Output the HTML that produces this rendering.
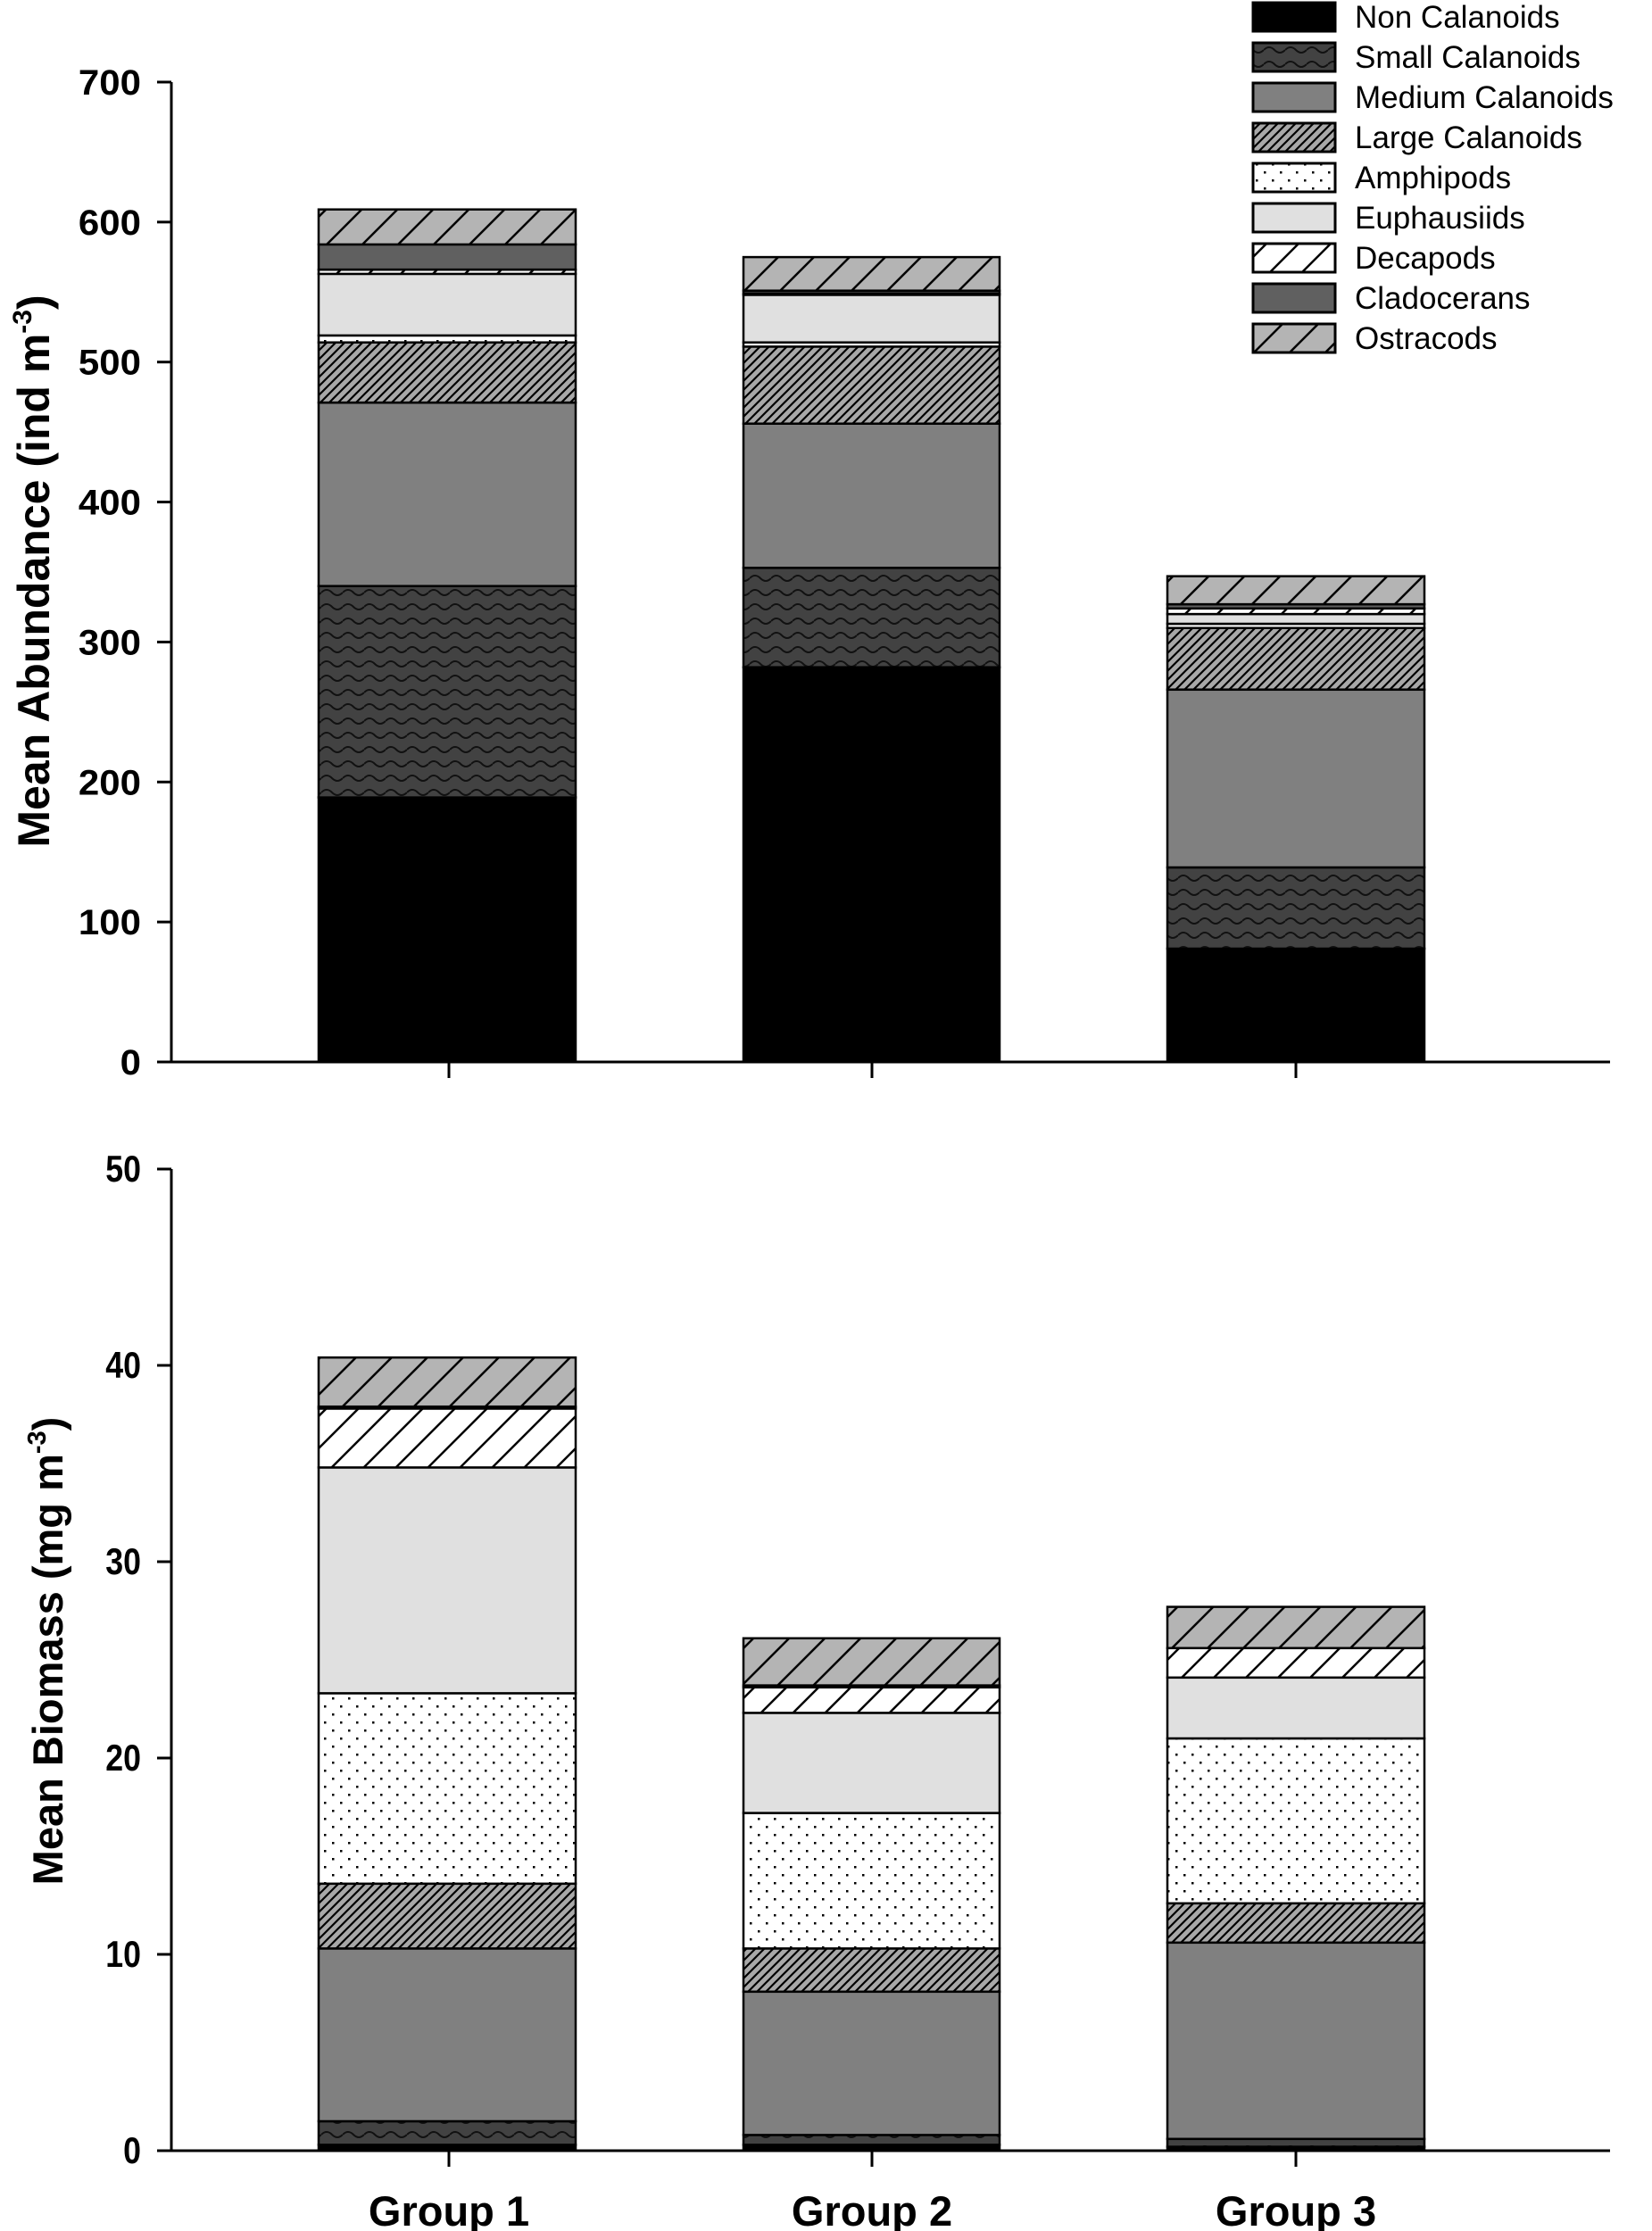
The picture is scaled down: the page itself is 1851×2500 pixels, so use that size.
<!DOCTYPE html>
<html><head><meta charset="utf-8"><style>
html,body{margin:0;padding:0;background:#fff;}
svg{display:block;}
text{font-family:"Liberation Sans",Arial,sans-serif;}
</style></head><body>
<svg id="s" width="1851" height="2500" viewBox="0 0 1851 2500" xmlns="http://www.w3.org/2000/svg">
<defs>
<pattern id="pSmall" width="24" height="16" patternUnits="userSpaceOnUse">
<rect width="24" height="16" fill="#424242"/>
<path d="M0 8 Q6 2 12 8 T24 8" fill="none" stroke="#111" stroke-width="2"/>
</pattern>
<pattern id="pLarge" width="10" height="10" patternUnits="userSpaceOnUse">
<rect width="10" height="10" fill="#a8a8a8"/>
<path d="M-2 12 L12 -2 M-7 7 L7 -7 M3 17 L17 3" stroke="#000" stroke-width="2.2"/>
</pattern>
<pattern id="pAmph" width="18" height="18" patternUnits="userSpaceOnUse">
<rect width="18" height="18" fill="#fff"/>
<rect x="3" y="3" width="2.5" height="2.5" fill="#000"/>
<rect x="12" y="12" width="2.5" height="2.5" fill="#000"/>
</pattern>
<pattern id="pDec" width="36" height="36" patternUnits="userSpaceOnUse">
<rect width="36" height="36" fill="#fff"/>
<path d="M-4 40 L40 -4 M-40 40 L4 -4 M32 40 L76 -4" stroke="#000" stroke-width="2.5"/>
</pattern>
<pattern id="pOst" width="40" height="40" patternUnits="userSpaceOnUse">
<rect width="40" height="40" fill="#b4b4b4"/>
<path d="M-4 44 L44 -4 M-44 44 L4 -4 M36 44 L84 -4" stroke="#000" stroke-width="2.5"/>
</pattern>
</defs>
<g id="g"></g>
</svg>
<script>
var fills=["#000","url(#pSmall)","#808080","url(#pLarge)","url(#pAmph)","#e0e0e0","url(#pDec)","#606060","url(#pOst)"];
var names=["Non Calanoids","Small Calanoids","Medium Calanoids","Large Calanoids","Amphipods","Euphausiids","Decapods","Cladocerans","Ostracods"];
var bars=[[357,645],[833,1120],[1308,1596]];
var ticksX=[503,977,1452];
var A=[[189,340,471,514,519,563,566,584,609],[282,353,456,511,514,548,549,551,575],[81,139,266,310,313,320,324,327,347]];
var B=[[0.3,1.5,10.3,13.6,23.3,34.8,37.8,37.9,40.4],[0.3,0.8,8.1,10.3,17.2,22.3,23.6,23.7,26.1],[0.2,0.6,10.6,12.6,21.0,24.1,25.6,25.6,27.7]];
var h='';
function panel(data,y0,sc,max,step,label,fs,sx){
  for(var g=0;g<3;g++){var prev=0;for(var i=0;i<9;i++){var v=data[g][i];if(v<=prev){continue;}
    var yt=y0-v*sc,yb=y0-prev*sc;
    h+='<rect x="'+bars[g][0]+'" y="'+yt.toFixed(1)+'" width="'+(bars[g][1]-bars[g][0])+'" height="'+(yb-yt).toFixed(1)+'" fill="'+fills[i]+'" stroke="#000" stroke-width="2.5"/>';
    prev=v;}}
  var ytop=y0-max*sc;
  h+='<line x1="192" y1="'+ytop+'" x2="192" y2="'+y0+'" stroke="#000" stroke-width="3"/>';
  h+='<line x1="192" y1="'+y0+'" x2="1804" y2="'+y0+'" stroke="#000" stroke-width="3"/>';
  for(var v=0;v<=max;v+=step){var y=y0-v*sc;
    h+='<line x1="176" y1="'+y+'" x2="192" y2="'+y+'" stroke="#000" stroke-width="3"/>';
    h+='<text transform="translate(158,'+(y+14)+') scale('+sx+',1)" font-size="'+fs+'" font-weight="bold" text-anchor="end">'+v+'</text>';}
  for(var t=0;t<3;t++){h+='<line x1="'+ticksX[t]+'" y1="'+y0+'" x2="'+ticksX[t]+'" y2="'+(y0+18)+'" stroke="#000" stroke-width="3"/>';}
  h+=label;
}
panel(A,1190,1.5686,700,100,'<text transform="translate(55,640) rotate(-90)" font-size="50" font-weight="bold" text-anchor="middle">Mean Abundance (ind m<tspan font-size="30" dy="-20">-3</tspan><tspan dy="20">)</tspan></text>',40,1.05);
panel(B,2410,22.0,50,10,'<text transform="translate(70,1850) rotate(-90)" font-size="47" font-weight="bold" text-anchor="middle">Mean Biomass (mg m<tspan font-size="29" dy="-19">-3</tspan><tspan dy="19">)</tspan></text>',42,0.85);
var gl=["Group 1","Group 2","Group 3"];
for(var t=0;t<3;t++){h+='<text x="'+ticksX[t]+'" y="2494" font-size="47" font-weight="bold" text-anchor="middle">'+gl[t]+'</text>';}
for(var i=0;i<9;i++){var y=3+i*45;
  h+='<rect x="1404" y="'+y+'" width="92" height="32" fill="'+fills[i]+'" stroke="#000" stroke-width="3"/>';
  h+='<text x="1518" y="'+(y+28)+'" font-size="35">'+names[i]+'</text>';}
document.getElementById('g').innerHTML=h;
</script>
</body></html>
